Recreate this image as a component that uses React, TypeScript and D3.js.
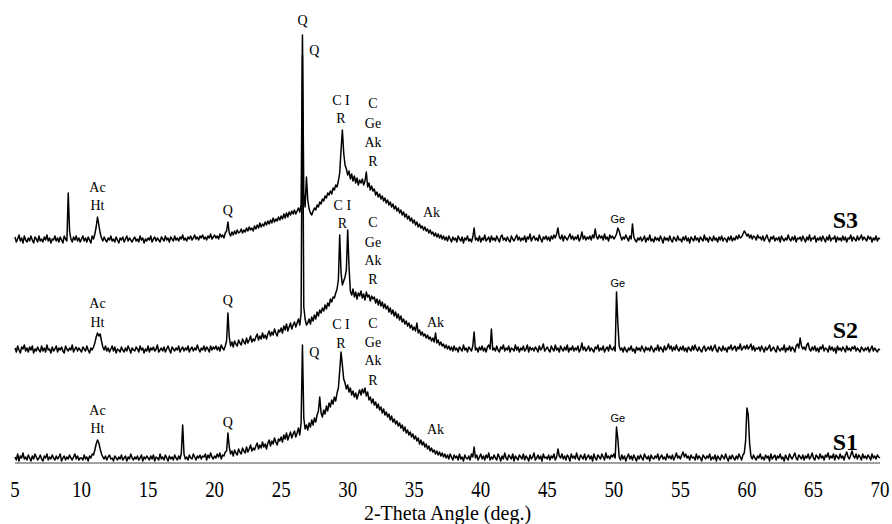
import React, { useRef, useEffect } from 'react';
import * as d3 from 'd3';

// 2-theta step of the scan (0.1 deg), 5..70
const twoTheta = d3.range(651).map(i => +(5 + i * 0.1).toFixed(1));

// intensities, one row per degree
const s1Counts = [
  6, 3, 9, 2, 7, 5, 10, 4, 6, 3,
  8, 5, 2, 7, 4, 9, 6, 3, 5, 8,
  4, 2, 7, 5, 9, 3, 6, 4, 8, 5,
  3, 7, 4, 6, 9, 2, 5, 7, 3, 6,
  4, 8, 5, 3, 6, 9, 4, 7, 3, 5,
  5, 3, 8, 4, 6, 2, 7, 5, 9, 8,
  13, 19, 23, 20, 14, 9, 6, 4, 7, 3,
  6, 8, 4, 5, 2, 7, 5, 3, 6, 4,
  8, 3, 5, 7, 2, 6, 4, 9, 5, 3,
  6, 4, 7, 3, 5, 8, 2, 6, 4, 7,
  5, 3, 7, 4, 8, 2, 6, 5, 3, 9,
  4, 6, 3, 8, 5, 2, 7, 4, 6, 3,
  8, 5, 3, 7, 4, 10, 38, 9, 4, 6,
  3, 8, 5, 4, 9, 6, 3, 7, 5, 8,
  4, 7, 6, 9, 3, 8, 5, 10, 6, 4,
  7, 5, 9, 6, 10, 4, 8, 7, 11, 12,
  30, 16, 9, 12, 7, 13, 10, 8, 14, 11,
  9, 15, 12, 10, 16, 11, 14, 18, 12, 15,
  13, 17, 20, 14, 18, 15, 21, 16, 19, 14,
  20, 23, 17, 22, 19, 25, 21, 18, 24, 22,
  26, 21, 28, 24, 30, 23, 27, 31, 25, 29,
  32, 26, 30, 35, 28, 40, 118, 45, 34, 38,
  33, 40, 36, 43, 38, 45, 41, 48, 52, 66,
  50, 46, 53, 49, 57, 52, 60, 56, 63, 59,
  66, 62, 70, 75, 92, 111, 98, 84, 80, 74,
  78, 71, 75, 68, 72, 66, 70, 64, 69, 73,
  68, 74, 70, 75, 67, 71, 63, 66, 60, 64,
  58, 61, 55, 59, 53, 56, 50, 54, 48, 51,
  46, 49, 43, 47, 41, 44, 39, 42, 37, 40,
  35, 38, 32, 36, 30, 33, 28, 31, 26, 29,
  24, 27, 22, 25, 19, 23, 18, 21, 16, 19,
  14, 17, 12, 15, 11, 13, 9, 12, 8, 11,
  7, 10, 6, 9, 5, 8, 4, 9, 6, 3,
  8, 5, 7, 3, 9, 4, 6, 2, 8, 5,
  4, 7, 3, 9, 6, 16, 5, 8, 3, 6,
  9, 4, 7, 3, 8, 5, 10, 3, 6, 4,
  8, 5, 3, 9, 6, 2, 7, 4, 10, 5,
  3, 8, 6, 4, 9, 2, 7, 5, 3, 8,
  6, 4, 9, 3, 7, 5, 2, 8, 4, 6,
  10, 3, 5, 8, 4, 7, 2, 9, 5, 6,
  4, 8, 3, 7, 5, 9, 3, 6, 14, 7,
  5, 9, 4, 7, 3, 8, 6, 2, 9, 5,
  7, 4, 10, 5, 3, 8, 6, 4, 9, 3,
  6, 8, 4, 7, 2, 9, 5, 3, 8, 6,
  4, 9, 6, 3, 10, 5, 7, 4, 8, 6,
  9, 5, 36, 24, 6, 3, 8, 4, 7, 2,
  6, 9, 4, 7, 3, 8, 5, 2, 7, 4,
  8, 5, 3, 9, 6, 4, 7, 2, 8, 5,
  4, 7, 5, 9, 3, 6, 8, 4, 6, 3,
  9, 5, 7, 4, 8, 3, 6, 10, 5, 7,
  4, 8, 11, 6, 9, 5, 7, 3, 8, 5,
  6, 3, 9, 4, 7, 5, 2, 8, 6, 4,
  7, 5, 9, 3, 6, 4, 8, 2, 7, 5,
  3, 8, 6, 4, 9, 5, 2, 7, 4, 8,
  5, 3, 7, 4, 9, 6, 3, 8, 10, 22,
  55, 48, 20, 7, 4, 8, 5, 3, 7, 5,
  9, 4, 6, 3, 8, 5, 7, 2, 9, 4,
  6, 8, 3, 7, 5, 9, 4, 6, 2, 8,
  5, 3, 9, 6, 4, 7, 10, 5, 3, 8,
  6, 4, 8, 3, 7, 5, 9, 4, 6, 10,
  5, 3, 8, 6, 4, 9, 5, 7, 3, 8,
  6, 10, 4, 7, 5, 9, 3, 8, 6, 4,
  9, 5, 7, 3, 8, 11, 6, 4, 8, 12,
  7, 5, 9, 4, 8, 6, 3, 9, 5, 7,
  4, 8, 6, 3, 9, 5, 7, 4, 8, 6,
  5,
];

const s2Counts = [
  7, 3, 9, 5, 2, 8, 6, 10, 4, 7,
  3, 8, 5, 9, 2, 6, 4, 8, 5, 3,
  9, 4, 7, 3, 10, 5, 6, 2, 8, 4,
  6, 9, 3, 7, 5, 8, 4, 2, 9, 6,
  4, 7, 5, 10, 3, 6, 8, 4, 7, 5,
  3, 8, 6, 4, 9, 5, 2, 7, 5, 8,
  12, 18, 22, 19, 21, 14, 8, 5, 9, 4,
  7, 3, 6, 9, 4, 8, 2, 6, 5, 3,
  8, 5, 3, 7, 4, 9, 6, 2, 7, 5,
  4, 8, 6, 3, 9, 5, 7, 2, 6, 4,
  9, 3, 7, 5, 8, 4, 6, 10, 3, 5,
  7, 4, 8, 3, 6, 9, 5, 2, 8, 6,
  4, 7, 5, 9, 3, 6, 8, 4, 7, 5,
  9, 3, 6, 8, 4, 7, 5, 10, 6, 3,
  7, 5, 9, 4, 8, 6, 3, 9, 5, 8,
  6, 9, 5, 8, 4, 10, 7, 5, 9, 14,
  42, 18, 9, 13, 8, 14, 11, 9, 15, 12,
  10, 16, 13, 11, 17, 12, 15, 19, 13, 16,
  14, 18, 21, 15, 19, 16, 22, 17, 20, 16,
  21, 24, 19, 23, 20, 26, 22, 19, 25, 23,
  27, 22, 29, 25, 31, 24, 28, 32, 26, 30,
  33, 28, 32, 36, 30, 42, 300, 48, 36, 30,
  32, 36, 31, 38, 34, 40, 36, 43, 39, 45,
  42, 47, 44, 50, 46, 52, 49, 56, 53, 58,
  57, 62, 66, 75, 120, 82, 70, 74, 78, 85,
  125, 88, 64, 60, 66, 58, 63, 56, 62, 59,
  64, 57, 61, 55, 63, 58, 60, 54, 59, 56,
  58, 52, 56, 50, 55, 49, 53, 47, 51, 46,
  49, 43, 47, 41, 45, 39, 43, 37, 41, 35,
  39, 33, 36, 31, 34, 29, 32, 27, 30, 25,
  28, 24, 32, 22, 25, 20, 23, 19, 21, 17,
  20, 16, 18, 14, 17, 13, 22, 12, 15, 10,
  13, 9, 11, 7, 10, 6, 9, 5, 8, 4,
  9, 5, 7, 3, 8, 6, 4, 10, 5, 7,
  3, 8, 6, 4, 9, 23, 5, 7, 3, 8,
  5, 9, 4, 7, 3, 8, 10, 6, 26, 5,
  7, 4, 9, 5, 3, 8, 6, 10, 4, 7,
  5, 9, 3, 7, 6, 4, 10, 5, 8, 3,
  7, 5, 9, 4, 6, 10, 3, 8, 5, 7,
  4, 8, 6, 3, 9, 5, 7, 11, 4, 6,
  8, 5, 3, 9, 6, 4, 10, 5, 7, 3,
  9, 6, 4, 8, 5, 10, 3, 7, 5, 9,
  4, 7, 5, 9, 3, 6, 12, 5, 8, 4,
  6, 9, 4, 7, 5, 3, 8, 6, 10, 4,
  7, 5, 9, 3, 6, 8, 4, 10, 6, 5,
  8, 4, 63, 32, 9, 5, 7, 3, 8, 5,
  3, 7, 5, 9, 4, 6, 2, 8, 5, 7,
  4, 9, 6, 3, 8, 5, 7, 4, 9, 6,
  3, 7, 5, 10, 4, 8, 6, 3, 9, 5,
  7, 11, 6, 9, 4, 8, 5, 10, 6, 4,
  8, 5, 9, 4, 7, 3, 8, 6, 4, 9,
  5, 10, 6, 4, 8, 5, 3, 7, 9, 4,
  6, 8, 5, 9, 4, 7, 10, 5, 3, 8,
  6, 4, 9, 5, 7, 3, 8, 6, 10, 5,
  7, 9, 4, 8, 6, 11, 5, 7, 9, 6,
  10, 6, 8, 11, 5, 9, 4, 7, 6, 8,
  4, 9, 6, 3, 8, 5, 7, 10, 4, 6,
  8, 5, 3, 9, 6, 4, 7, 5, 10, 3,
  7, 5, 9, 4, 8, 6, 3, 9, 11, 7,
  17, 9, 6, 8, 5, 10, 12, 6, 4, 8,
  5, 9, 4, 7, 3, 8, 6, 10, 4, 7,
  6, 3, 9, 5, 8, 4, 7, 2, 9, 5,
  7, 4, 8, 6, 3, 9, 5, 7, 4, 8,
  6, 9, 4, 7, 5, 3, 8, 6, 4, 7,
  5, 8, 3, 6, 9, 4, 7, 5, 3, 6,
  5,
];

const s3Counts = [
  8, 3, 6, 10, 4, 7, 2, 9, 5, 3,
  7, 4, 9, 5, 2, 8, 6, 3, 9, 4,
  6, 3, 8, 5, 10, 4, 7, 2, 6, 5,
  9, 4, 7, 3, 8, 5, 2, 9, 6, 4,
  52, 14, 6, 3, 8, 5, 9, 4, 7, 3,
  6, 9, 4, 7, 3, 8, 5, 2, 9, 6,
  11, 18, 28, 20, 12, 7, 4, 8, 5, 3,
  7, 5, 9, 4, 6, 3, 8, 5, 2, 7,
  5, 8, 3, 6, 9, 4, 7, 5, 3, 6,
  8, 4, 6, 3, 9, 5, 7, 2, 6, 4,
  7, 5, 9, 3, 6, 8, 4, 7, 5, 3,
  8, 6, 4, 9, 5, 7, 3, 8, 6, 4,
  9, 5, 7, 4, 8, 6, 10, 5, 7, 4,
  8, 6, 9, 5, 7, 10, 6, 8, 5, 9,
  7, 10, 6, 8, 5, 9, 7, 11, 6, 8,
  10, 7, 9, 6, 11, 8, 10, 7, 12, 14,
  23, 12, 9, 13, 10, 14, 11, 15, 12, 13,
  16, 12, 15, 13, 17, 14, 18, 15, 17, 14,
  19, 16, 20, 17, 22, 18, 21, 19, 23, 20,
  24, 21, 25, 22, 27, 23, 26, 24, 28, 25,
  29, 26, 31, 27, 32, 28, 33, 30, 34, 31,
  35, 31, 34, 37, 33, 40, 210, 52, 38, 68,
  45, 36, 32, 30, 34, 37, 35, 40, 38, 43,
  41, 46, 44, 49, 47, 52, 50, 54, 51, 57,
  55, 60, 58, 64, 72, 95, 115, 92, 80, 76,
  70, 74, 66, 71, 64, 69, 62, 67, 60, 65,
  62, 66, 60, 64, 73, 58, 62, 55, 59, 54,
  56, 50, 53, 48, 51, 46, 49, 44, 47, 42,
  45, 40, 43, 38, 41, 36, 39, 34, 37, 32,
  35, 30, 33, 28, 31, 26, 29, 24, 27, 22,
  25, 20, 23, 18, 21, 17, 19, 15, 18, 14,
  16, 12, 15, 11, 13, 9, 12, 8, 11, 7,
  10, 6, 9, 5, 8, 4, 9, 6, 3, 8,
  5, 7, 3, 9, 6, 4, 8, 2, 7, 5,
  9, 4, 6, 3, 8, 17, 5, 7, 4, 9,
  3, 7, 5, 10, 4, 6, 8, 3, 9, 5,
  7, 4, 9, 6, 3, 8, 10, 5, 7, 4,
  8, 5, 3, 9, 6, 4, 7, 10, 5, 8,
  4, 7, 5, 9, 3, 8, 6, 11, 4, 7,
  9, 5, 7, 4, 10, 6, 3, 8, 6, 9,
  5, 8, 4, 9, 6, 10, 7, 11, 17, 8,
  6, 10, 4, 9, 7, 5, 8, 11, 6, 9,
  5, 8, 6, 10, 4, 7, 13, 6, 9, 5,
  8, 6, 9, 5, 10, 7, 16, 8, 6, 10,
  7, 9, 5, 11, 6, 8, 4, 10, 7, 9,
  6, 8, 11, 17, 14, 9, 5, 8, 6, 10,
  7, 4, 9, 6, 21, 8, 5, 3, 7, 5,
  8, 4, 6, 9, 3, 7, 5, 10, 4, 6,
  3, 8, 5, 7, 4, 9, 6, 2, 8, 5,
  7, 4, 9, 5, 3, 8, 6, 4, 9, 5,
  6, 3, 8, 5, 9, 4, 7, 2, 8, 6,
  4, 9, 5, 7, 3, 8, 6, 4, 10, 5,
  7, 3, 8, 6, 4, 9, 5, 7, 3, 8,
  5, 9, 4, 7, 6, 3, 8, 5, 9, 4,
  7, 5, 9, 6, 10, 7, 8, 11, 14, 12,
  9, 11, 7, 10, 6, 9, 8, 5, 10, 7,
  8, 5, 9, 4, 7, 10, 6, 3, 8, 6,
  9, 4, 7, 5, 8, 3, 9, 6, 4, 7,
  5, 10, 6, 4, 8, 5, 9, 3, 7, 6,
  8, 4, 9, 6, 3, 8, 5, 10, 4, 7,
  6, 9, 3, 7, 5, 8, 4, 9, 6, 3,
  8, 5, 10, 4, 7, 6, 9, 3, 8, 5,
  7, 4, 9, 5, 8, 3, 7, 6, 10, 4,
  8, 6, 4, 9, 5, 7, 10, 5, 8, 6,
  4, 9, 6, 8, 3, 7, 5, 9, 4, 7,
  6,
];

const sampleNames = ['S1', 'S2', 'S3'];
const sampleOffsets = [0, 108, 218];
const xTicks = [5, 10, 15, 20, 25, 30, 35, 40, 45, 50, 55, 60, 65, 70];

// phase labels: text, 2-theta, level (same units as the stacked intensity)
const phaseLabels: [string, number, number][] = [
  // S3
  ['Ac', 11.2, 276], ['Ht', 11.2, 258], ['Q', 21.0, 253], ['Q', 26.6, 443],
  ['C I', 29.5, 363], ['R', 29.5, 345],
  ['C', 31.9, 360], ['Ge', 31.9, 340], ['Ak', 31.9, 321], ['R', 31.9, 302],
  ['Ak', 36.3, 251],
  // S2
  ['Ac', 11.2, 160], ['Ht', 11.2, 141], ['Q', 21.0, 163], ['Q', 27.5, 413],
  ['C I', 29.6, 258], ['R', 29.6, 240],
  ['C', 31.9, 241], ['Ge', 31.9, 221], ['Ak', 31.9, 203], ['R', 31.9, 184],
  ['Ak', 36.6, 141],
  // S1
  ['Ac', 11.2, 53], ['Ht', 11.2, 35], ['Q', 21.0, 41], ['Q', 27.5, 111],
  ['C I', 29.5, 139], ['R', 29.5, 120],
  ['C', 31.9, 140], ['Ge', 31.9, 121], ['Ak', 31.9, 103], ['R', 31.9, 83],
  ['Ak', 36.6, 34],
];
// the small Ge labels at ~50 deg
const geLabels: [number, number][] = [[50.3, 244], [50.3, 180], [50.3, 45]];
const sampleLabelLevels = [21, 133, 243];

const App = () => {
  const ref = useRef(null);

  useEffect(() => {
    const svg = d3.select(ref.current);
    svg.selectAll('*').remove();

    const x = d3.scaleLinear().domain([5, 70]).range([15, 880]);
    const y = d3.scaleLinear().domain([0, 440]).range([463, 23]);
    const serif = '"Liberation Serif", "Times New Roman", serif';

    // x axis line
    svg.append('line')
      .attr('x1', x(5)).attr('x2', x(70))
      .attr('y1', y(0)).attr('y2', y(0))
      .attr('stroke', '#444').attr('stroke-width', 1.2);

    xTicks.forEach(t => {
      svg.append('text')
        .attr('transform', `translate(${x(t)},497) scale(0.82,1)`)
        .attr('text-anchor', 'middle')
        .attr('font-family', serif).attr('font-size', 23)
        .text(t);
    });

    svg.append('text')
      .attr('x', x(37.5)).attr('y', 520)
      .attr('text-anchor', 'middle')
      .attr('font-family', serif).attr('font-size', 20)
      .text('2-Theta Angle (deg.)');

    // traces
    [s1Counts, s2Counts, s3Counts].forEach((counts, k) => {
      const line = d3.line<number>()
        .x((_, i) => x(twoTheta[i]))
        .y(d => y(d + sampleOffsets[k]));
      svg.append('path')
        .attr('d', line(counts))
        .attr('fill', 'none')
        .attr('stroke', '#000')
        .attr('stroke-width', 1.5)
        .attr('stroke-linejoin', 'round');

      svg.append('text')
        .attr('x', x(67.4)).attr('y', y(sampleLabelLevels[k]))
        .attr('dy', '0.35em')
        .attr('text-anchor', 'middle')
        .attr('font-family', serif).attr('font-weight', 'bold').attr('font-size', 24)
        .text(sampleNames[k]);
    });

    phaseLabels.forEach(([txt, ang, lvl]) => {
      svg.append('text')
        .attr('x', x(ang)).attr('y', y(lvl))
        .attr('dy', '0.35em')
        .attr('text-anchor', 'middle')
        .attr('font-family', serif).attr('font-size', 14)
        .text(txt);
    });

    geLabels.forEach(([ang, lvl]) => {
      svg.append('text')
        .attr('x', x(ang)).attr('y', y(lvl))
        .attr('dy', '0.35em')
        .attr('text-anchor', 'middle')
        .attr('font-family', '"Liberation Sans", Arial, sans-serif').attr('font-size', 11)
        .text('Ge');
    });
  }, []);

  return (
    <div style={{ position: 'absolute', left: 0, top: 0 }}>
      <svg ref={ref} width={892} height={524} />
    </div>
  );
};

export default App;
